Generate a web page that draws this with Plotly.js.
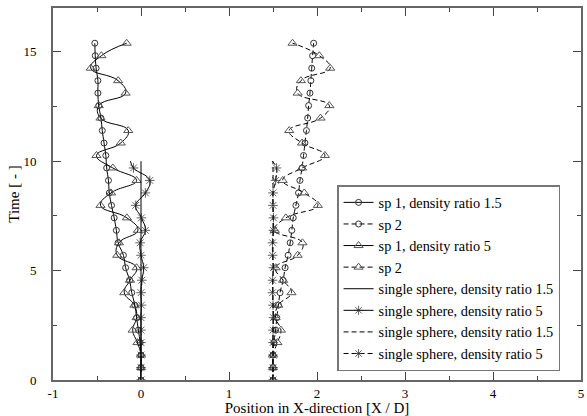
<!DOCTYPE html>
<html>
<head>
<meta charset="utf-8">
<script src="https://cdn.plot.ly/plotly-3.0.1.min.js"></script>
<style>html,body{margin:0;padding:0;background:#fff;}#chart{width:587px;height:416px;}</style>
</head>
<body>
<div id="chart"></div>
<script>
// Time samples (marker positions) for two-sphere runs
const timeTwo = [0, 0.57, 1.14, 1.71, 2.28, 2.85, 3.42, 3.99, 4.56, 5.13, 5.70, 6.27, 6.84, 7.41, 7.98, 8.55, 9.12, 9.69, 10.26, 10.83, 11.40, 11.97, 12.54, 13.11, 13.68, 14.25, 14.82, 15.39];
// sp 1 / sp 2, density ratio 1.5 (circles)
const sp1Ratio15 = [0, 0, 0, -0.01, -0.03, -0.05, -0.07, -0.105, -0.13, -0.175, -0.2, -0.26, -0.28, -0.305, -0.335, -0.36, -0.37, -0.39, -0.40, -0.42, -0.44, -0.455, -0.48, -0.49, -0.49, -0.51, -0.52, -0.525];
const sp2Ratio15 = [1.5, 1.5, 1.5, 1.51, 1.53, 1.543, 1.562, 1.58, 1.615, 1.638, 1.672, 1.695, 1.714, 1.73, 1.76, 1.79, 1.806, 1.83, 1.847, 1.863, 1.88, 1.894, 1.905, 1.92, 1.93, 1.94, 1.95, 1.962];
// sp 1 / sp 2, density ratio 5 (triangles)
const sp1Ratio5 = [0, 0, 0, -0.04, -0.095, -0.05, -0.075, -0.19, -0.125, -0.05, -0.27, -0.25, -0.035, -0.16, -0.46, -0.34, -0.05, -0.32, -0.506, -0.23, -0.145, -0.46, -0.48, -0.175, -0.26, -0.571, -0.45, -0.163];
const sp2Ratio5 = [1.5, 1.5, 1.5, 1.55, 1.59, 1.53, 1.56, 1.71, 1.615, 1.53, 1.78, 1.835, 1.52, 1.646, 2.01, 1.855, 1.61, 1.83, 2.09, 1.83, 1.684, 2.04, 2.14, 1.78, 1.817, 2.15, 2.026, 1.722];
// single sphere runs
const timeSingleLine = [0, 10.0];
const singleRatio15Left = [0, 0];
const singleRatio15Right = [1.5, 1.5];
const timeSingle = [0, 0.57, 1.14, 1.71, 2.28, 2.85, 3.42, 3.99, 4.56, 5.13, 5.70, 6.27, 6.84, 7.41, 7.98, 8.55, 9.12, 9.69, 10.0];
const singleRatio5Left = [0, 0, 0, 0, 0, 0, 0.005, 0, 0.01, 0.03, 0, -0.01, 0.05, 0.005, -0.06, 0.05, 0.10, -0.085, -0.12];
const singleRatio5Right = [1.5, 1.5, 1.5, 1.5, 1.5, 1.505, 1.5, 1.495, 1.495, 1.505, 1.495, 1.495, 1.505, 1.505, 1.5, 1.5, 1.53, 1.54, 1.49];
const starSizes = timeSingle.map((t, i) => i === timeSingle.length - 1 ? 0 : 8);

const legendNames = ['sp 1, density ratio 1.5', 'sp 2', 'sp 1, density ratio 5', 'sp 2',
  'single sphere, density ratio 1.5', 'single sphere, density ratio 5',
  'single sphere, density ratio 1.5', 'single sphere, density ratio 5'];

const DASH = '5px,3px';
const lineBase = {color: '#000', width: 1, shape: 'spline', smoothing: 1.3};

const traces = [
  {x: sp1Ratio15, y: timeTwo, name: legendNames[0], mode: 'lines+markers',
   line: Object.assign({}, lineBase),
   marker: {symbol: 'circle-open', size: 6, color: '#333', line: {width: 1}}},
  {x: sp2Ratio15, y: timeTwo, name: legendNames[1], mode: 'lines+markers',
   line: Object.assign({}, lineBase, {dash: DASH}),
   marker: {symbol: 'circle-open', size: 6, color: '#333', line: {width: 1}}},
  {x: sp1Ratio5, y: timeTwo, name: legendNames[2], mode: 'lines+markers',
   line: Object.assign({}, lineBase),
   marker: {symbol: 'triangle-up-open', size: 8, color: '#555', line: {width: 1}}},
  {x: sp2Ratio5, y: timeTwo, name: legendNames[3], mode: 'lines+markers',
   line: Object.assign({}, lineBase, {dash: DASH}),
   marker: {symbol: 'triangle-up-open', size: 8, color: '#555', line: {width: 1}}},
  {x: singleRatio15Left, y: timeSingleLine, name: legendNames[4], mode: 'lines',
   line: {color: '#000', width: 1}},
  {x: singleRatio5Left, y: timeSingle, name: legendNames[5], mode: 'lines+markers',
   line: Object.assign({}, lineBase),
   marker: {symbol: 'asterisk-open', size: starSizes, color: '#222', line: {width: 1}}},
  {x: singleRatio15Right, y: timeSingleLine, name: legendNames[6], mode: 'lines',
   line: {color: '#000', width: 1, dash: DASH}},
  {x: singleRatio5Right, y: timeSingle, name: legendNames[7], mode: 'lines+markers',
   line: Object.assign({}, lineBase, {dash: DASH}),
   marker: {symbol: 'asterisk-open', size: starSizes, color: '#222', line: {width: 1}}}
];

const xTickVals = [-1, 0, 1, 2, 3, 4, 5];
const xTickText = ['-1', '0', '1', '2', '3', '4', '5'];
const yTickVals = [0, 5, 10, 15];
const yTickText = ['0', '5', '10', '15'];

const FONT = 'Liberation Serif, Times New Roman, serif';
const axisCommon = {
  showgrid: false, zeroline: false, showline: true, linecolor: '#666', linewidth: 2,
  mirror: 'ticks', ticks: 'inside', ticklen: 8, tickwidth: 1, tickcolor: '#444',
  tickfont: {family: FONT, size: 13, color: '#000'}
};

const layout = {
  width: 587, height: 416,
  margin: {l: 53, r: 6, t: 8, b: 36},
  paper_bgcolor: '#fff', plot_bgcolor: '#fff',
  font: {family: FONT, color: '#000'},
  showlegend: true,
  legend: {
    x: 0.538, y: 0.274, xanchor: 'left', yanchor: 'middle',
    bgcolor: '#fff', bordercolor: '#777', borderwidth: 1.5,
    font: {family: FONT, size: 14.3, color: '#000'},
    tracegroupgap: 0, itemwidth: 30
  },
  xaxis: Object.assign({}, axisCommon, {
    range: [-1, 5], tickmode: 'array', tickvals: xTickVals, ticktext: xTickText,
    ticklabelstandoff: 0,
    minor: {dtick: 0.5, tick0: 0, ticks: 'inside', ticklen: 4, tickcolor: '#444'},
    title: {text: 'Position in X-direction [X / D]', font: {family: FONT, size: 15, color: '#000'}, standoff: 0}
  }),
  yaxis: Object.assign({}, axisCommon, {
    range: [0, 17], tickmode: 'array', tickvals: yTickVals, ticktext: yTickText,
    ticklabelstandoff: 12,
    minor: {dtick: 2.5, tick0: 0, ticks: 'inside', ticklen: 4, tickcolor: '#444'},
    title: {text: 'Time [ - ]', font: {family: FONT, size: 15, color: '#000'}, standoff: 0}
  })
};

Plotly.newPlot('chart', traces, layout, {displayModeBar: false, staticPlot: true});
</script>
</body>
</html>
